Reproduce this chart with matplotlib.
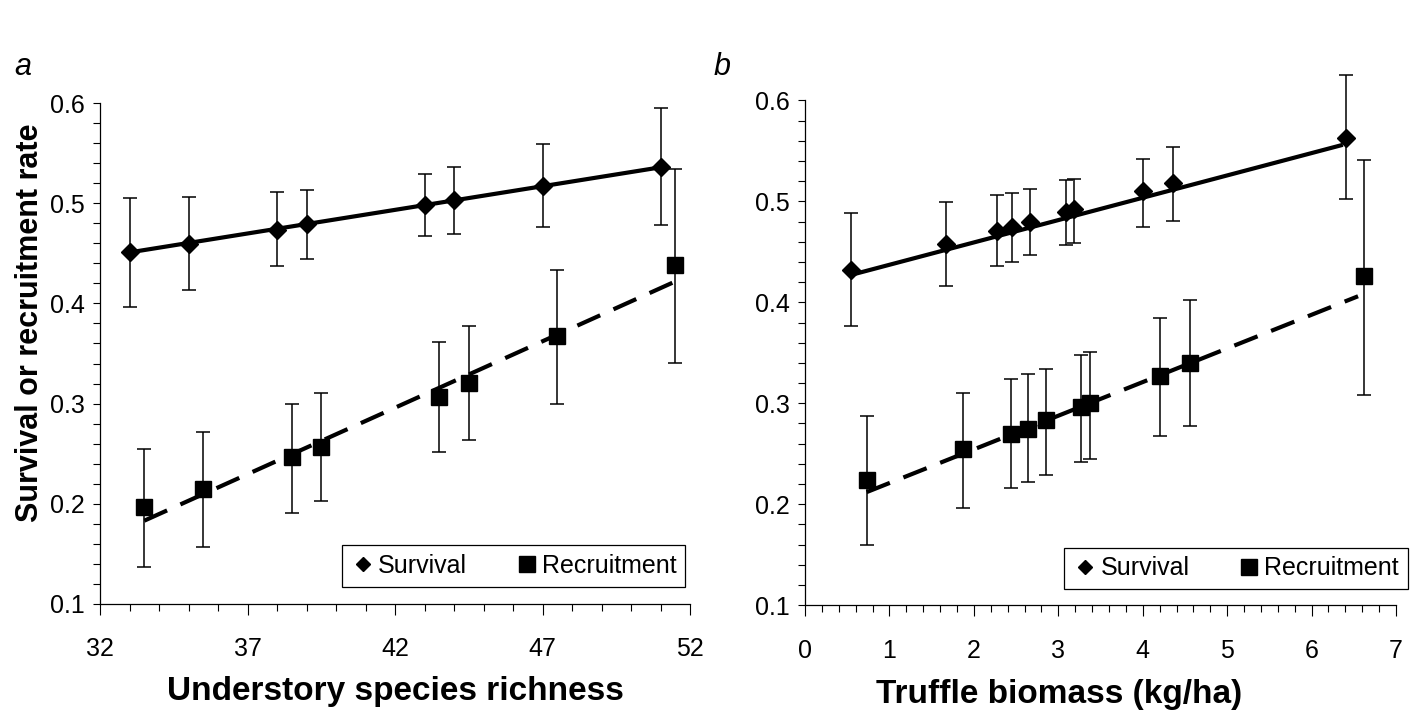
import matplotlib
matplotlib.use('Agg')
import matplotlib.pyplot as plt
from matplotlib.ticker import MultipleLocator, FormatStrFormatter
from matplotlib.lines import Line2D
import numpy as np

plt.rcParams['font.family'] = ['Liberation Sans', 'DejaVu Sans']

# panel a: understory species richness
a_surv_x = [33, 35, 38, 39, 43, 44, 47, 51]
a_surv_y = [0.451, 0.459, 0.473, 0.479, 0.498, 0.503, 0.517, 0.536]
a_surv_lo = [0.396, 0.413, 0.437, 0.444, 0.467, 0.469, 0.476, 0.478]
a_surv_hi = [0.505, 0.506, 0.511, 0.513, 0.529, 0.536, 0.559, 0.595]
a_rec_x = [33.5, 35.5, 38.5, 39.5, 43.5, 44.5, 47.5, 51.5]
a_rec_y = [0.197, 0.215, 0.247, 0.257, 0.307, 0.321, 0.367, 0.438]
a_rec_lo = [0.137, 0.157, 0.191, 0.203, 0.252, 0.264, 0.300, 0.341]
a_rec_hi = [0.255, 0.272, 0.300, 0.311, 0.361, 0.377, 0.433, 0.534]
a_surv_fit_x = [33, 51]
a_surv_fit_y = [0.451, 0.536]
a_rec_fit_x = [33.5, 51.5]
a_rec_fit_y = [0.183, 0.422]
a_xticks = [32, 37, 42, 47, 52]

# panel b: truffle biomass
b_surv_x = [0.54, 1.67, 2.27, 2.45, 2.67, 3.09, 3.19, 4.0, 4.36, 6.41]
b_surv_y = [0.432, 0.458, 0.471, 0.475, 0.480, 0.489, 0.492, 0.510, 0.518, 0.563]
b_surv_lo = [0.377, 0.416, 0.436, 0.440, 0.447, 0.457, 0.459, 0.475, 0.481, 0.502]
b_surv_hi = [0.488, 0.499, 0.506, 0.508, 0.512, 0.521, 0.522, 0.542, 0.554, 0.625]
b_rec_x = [0.73, 1.87, 2.44, 2.64, 2.85, 3.27, 3.37, 4.20, 4.56, 6.62]
b_rec_y = [0.224, 0.255, 0.270, 0.275, 0.283, 0.296, 0.300, 0.327, 0.340, 0.426]
b_rec_lo = [0.160, 0.196, 0.216, 0.222, 0.229, 0.242, 0.245, 0.268, 0.277, 0.308]
b_rec_hi = [0.287, 0.310, 0.324, 0.329, 0.334, 0.348, 0.351, 0.384, 0.402, 0.541]
b_surv_fit_x = [0.54, 6.37]
b_surv_fit_y = [0.427, 0.556]
b_rec_fit_x = [0.73, 6.55]
b_rec_fit_y = [0.212, 0.406]


def draw(ax, sx, sy, slo, shi, rx, ry, rlo, rhi, sfx, sfy, rfx, rfy):
    sy, slo, shi = np.array(sy), np.array(slo), np.array(shi)
    ry, rlo, rhi = np.array(ry), np.array(rlo), np.array(rhi)
    ax.errorbar(sx, sy, yerr=[sy - slo, shi - sy], fmt='none', ecolor='black',
                elinewidth=1.1, capsize=5, capthick=1.1, clip_on=False, zorder=2)
    ax.errorbar(rx, ry, yerr=[ry - rlo, rhi - ry], fmt='none', ecolor='black',
                elinewidth=1.1, capsize=5, capthick=1.1, clip_on=False, zorder=2)
    ax.plot(sfx, sfy, color='black', lw=3, solid_capstyle='butt', zorder=3)
    ax.plot(rfx, rfy, color='black', lw=3, dashes=(6, 3.5), zorder=3)
    ax.plot(sx, sy, 'D', color='black', ms=9, zorder=4, clip_on=False)
    ax.plot(rx, ry, 's', color='black', ms=11, zorder=4, clip_on=False)

    ax.set_ylim(0.1, 0.6)
    ax.yaxis.set_major_locator(MultipleLocator(0.1))
    ax.yaxis.set_minor_locator(MultipleLocator(0.02))
    ax.yaxis.set_major_formatter(FormatStrFormatter('%.1f'))
    for s in ['top', 'right']:
        ax.spines[s].set_visible(False)
    for s in ['left', 'bottom']:
        ax.spines[s].set_linewidth(0.9)
    ax.tick_params(axis='y', which='both', direction='out', length=5, width=0.8,
                   labelsize=18, pad=6)
    ax.tick_params(axis='x', which='major', direction='out', length=8, width=0.8,
                   labelsize=18, pad=16)
    ax.tick_params(axis='x', which='minor', direction='out', length=5, width=0.8)

    handles = [Line2D([], [], ls='none', marker='D', color='black', ms=7),
               Line2D([], [], ls='none', marker='s', color='black', ms=11)]
    return handles


def add_legend(ax, handles, anchor):
    leg = ax.legend(handles, ['Survival', 'Recruitment'], ncol=2, loc='lower right',
                    bbox_to_anchor=anchor, fontsize=18, frameon=True, fancybox=False,
                    edgecolor='black', framealpha=1, handletextpad=0.1, columnspacing=1.9,
                    handlelength=1.0, borderpad=0.35, borderaxespad=0)
    leg.get_frame().set_linewidth(0.9)


fig = plt.figure(figsize=(14.13, 7.12), dpi=100)
ax1 = fig.add_axes([0.0708, 0.152, 0.4176, 0.703])
ax2 = fig.add_axes([0.5697, 0.150, 0.4183, 0.709])

h = draw(ax1, a_surv_x, a_surv_y, a_surv_lo, a_surv_hi, a_rec_x, a_rec_y, a_rec_lo, a_rec_hi,
         a_surv_fit_x, a_surv_fit_y, a_rec_fit_x, a_rec_fit_y)
ax1.set_xlim(32, 52)
ax1.set_xticks(a_xticks)
ax1.xaxis.set_minor_locator(MultipleLocator(1))
ax1.set_xlabel('Understory species richness', fontsize=24, fontweight='bold', labelpad=11)
ax1.set_ylabel('Survival or recruitment rate', fontsize=22, fontweight='bold')
ax1.yaxis.set_label_coords(-0.093, 0.562)
add_legend(ax1, h, (0.992, 0.034))

h = draw(ax2, b_surv_x, b_surv_y, b_surv_lo, b_surv_hi, b_rec_x, b_rec_y, b_rec_lo, b_rec_hi,
         b_surv_fit_x, b_surv_fit_y, b_rec_fit_x, b_rec_fit_y)
ax2.set_xlim(0, 7)
ax2.xaxis.set_major_locator(MultipleLocator(1))
ax2.xaxis.set_minor_locator(MultipleLocator(0.2))
ax2.set_xlabel('Truffle biomass (kg/ha)', fontsize=24, fontweight='bold')
ax2.xaxis.set_label_coords(0.43, -0.147)
add_legend(ax2, h, (1.02, 0.032))

fig.text(0.010, 0.895, 'a', fontsize=22, style='italic')
fig.text(0.505, 0.895, 'b', fontsize=22, style='italic')

fig.savefig('out.png', dpi=100)
